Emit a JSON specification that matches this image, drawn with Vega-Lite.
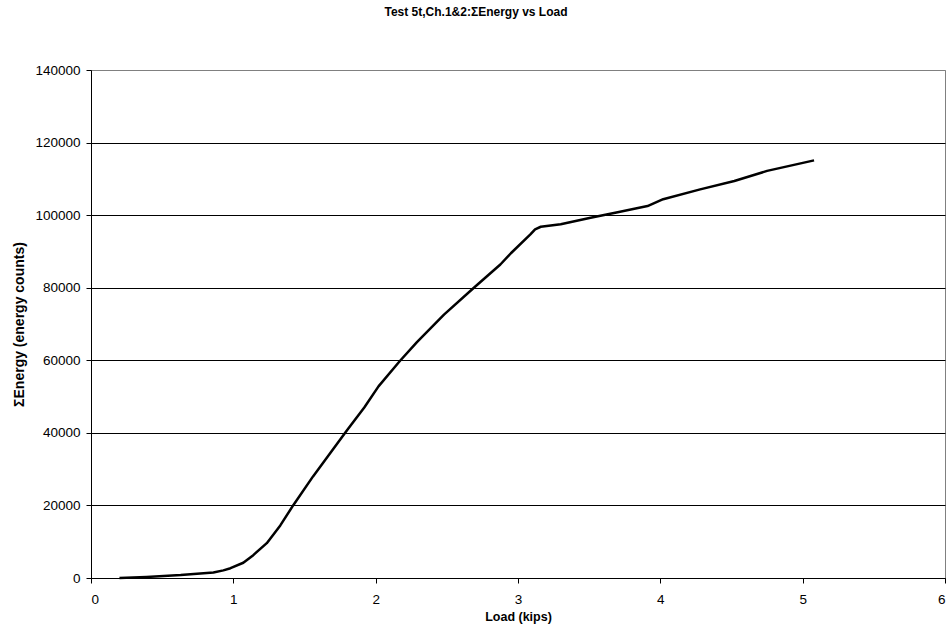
{
  "$schema": "https://vega.github.io/schema/vega-lite/v6.json",
  "width": 854,
  "height": 508,
  "autosize": "none",
  "padding": {"left": 91, "top": 70, "right": 6, "bottom": 60},
  "background": "white",
  "title": {
    "text": "Test 5t,Ch.1&2:ΣEnergy vs Load",
    "font": "Liberation Sans",
    "fontSize": 12,
    "fontWeight": "bold",
    "color": "black",
    "anchor": "middle",
    "offset": 44,
    "dx": -42
  },
  "config": {
    "view": {"stroke": "#808080", "strokeWidth": 1},
    "axis": {
      "labelFont": "Liberation Sans",
      "labelFontSize": 13.5,
      "labelColor": "black",
      "titleFont": "Liberation Sans",
      "titleFontWeight": "bold",
      "titleColor": "black",
      "domainColor": "black",
      "tickColor": "black",
      "tickSize": 5
    }
  },
  "data": {
    "values": [
      {"load": 0.2, "energy": 0},
      {"load": 0.39, "energy": 300},
      {"load": 0.63, "energy": 800},
      {"load": 0.86, "energy": 1500},
      {"load": 0.93, "energy": 2100},
      {"load": 0.98, "energy": 2700},
      {"load": 1.07, "energy": 4200},
      {"load": 1.14, "energy": 6300},
      {"load": 1.235, "energy": 9600},
      {"load": 1.33, "energy": 14500},
      {"load": 1.42, "energy": 20000},
      {"load": 1.56, "energy": 28000},
      {"load": 1.68, "energy": 34400},
      {"load": 1.8, "energy": 40800},
      {"load": 1.92, "energy": 47000},
      {"load": 2.02, "energy": 52800},
      {"load": 2.17, "energy": 59800},
      {"load": 2.29, "energy": 65000},
      {"load": 2.48, "energy": 72600},
      {"load": 2.69, "energy": 80000},
      {"load": 2.876, "energy": 86400},
      {"load": 2.95, "energy": 89500},
      {"load": 3.087, "energy": 94700},
      {"load": 3.12, "energy": 96100},
      {"load": 3.16, "energy": 96800},
      {"load": 3.3, "energy": 97500},
      {"load": 3.51, "energy": 99300},
      {"load": 3.7, "energy": 100800},
      {"load": 3.91, "energy": 102500},
      {"load": 4.02, "energy": 104400},
      {"load": 4.28, "energy": 107100},
      {"load": 4.52, "energy": 109400},
      {"load": 4.75, "energy": 112200},
      {"load": 5.08, "energy": 115100}
    ]
  },
  "mark": {"type": "line", "color": "black", "strokeWidth": 2.5, "strokeJoin": "round"},
  "encoding": {
    "x": {
      "field": "load",
      "type": "quantitative",
      "title": "Load (kips)",
      "scale": {"domain": [0, 6], "nice": false},
      "axis": {"values": [0, 1, 2, 3, 4, 5, 6], "grid": false, "labelPadding": 9, "titlePadding": 5, "titleFontSize": 12.5}
    },
    "y": {
      "field": "energy",
      "type": "quantitative",
      "title": "ΣEnergy (energy counts)",
      "scale": {"domain": [0, 140000], "nice": false},
      "axis": {
        "values": [0, 20000, 40000, 60000, 80000, 100000, 120000, 140000],
        "format": "d",
        "grid": true,
        "gridColor": {"condition": {"test": "datum.value >= 140000", "value": "#808080"}, "value": "#000000"},
        "gridWidth": 1,
        "labelPadding": 6,
        "titlePadding": 8,
        "titleFontSize": 14
      }
    }
  }
}
